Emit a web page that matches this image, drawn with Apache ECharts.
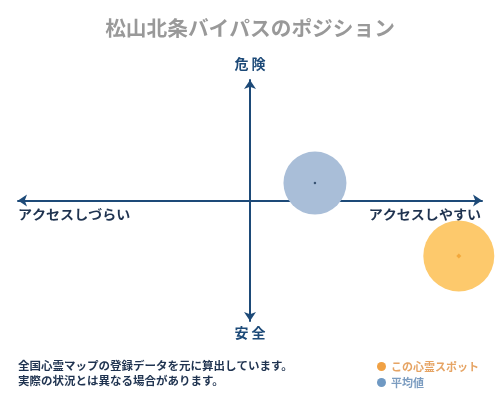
<!DOCTYPE html>
<html><head><meta charset="utf-8">
<script src="https://cdn.jsdelivr.net/npm/echarts@6/dist/echarts.min.js"></script>
<style>html,body{margin:0;padding:0;background:#fff}#c{width:500px;height:400px}</style>
</head><body><div id="c"></div>
<script>
const seriesNames = ['この心霊スポット', '平均値'];
const spotPoint = [9.0, -4.6];
const avgPoint = [2.8, 1.45];
const axisLabels = { top: '危 険', bottom: '安 全', left: 'アクセスしづらい', right: 'アクセスしやすい' };
const noteLines = ['全国心霊マップの登録データを元に算出しています。', '実際の状況とは異なる場合があります。'];
const titleText = '松山北条バイパスのポジション';

const FONT = '"Noto Sans CJK JP", "Noto Sans", sans-serif';
const NAVY = '#1d4a78';
const chart = echarts.init(document.getElementById('c'));
chart.setOption({
  backgroundColor: '#fff',
  animation: false,
  title: { text: titleText, left: 'center', top: 13,
    textStyle: { fontFamily: FONT, fontSize: 20.7, fontWeight: 'bold', color: '#999' } },
  grid: { left: 18, right: 18, top: 80, bottom: 79 },
  xAxis: { type: 'value', min: -10, max: 10, splitLine: { show: false }, axisTick: { show: false }, axisLabel: { show: false },
    axisLine: { onZero: true, lineStyle: { color: NAVY, width: 2 }, symbol: ['arrow', 'arrow'], symbolSize: [9, 9] } },
  yAxis: { type: 'value', min: -10, max: 10, splitLine: { show: false }, axisTick: { show: false }, axisLabel: { show: false },
    axisLine: { onZero: true, lineStyle: { color: NAVY, width: 2 }, symbol: ['arrow', 'arrow'], symbolSize: [9, 9] } },
  legend: { orient: 'vertical', left: 377, top: 361, padding: 0, itemGap: 5, itemWidth: 9, itemHeight: 9, icon: 'circle',
    data: [
      { name: seriesNames[0], itemStyle: { color: '#f0a144' }, textStyle: { color: '#e6a464' } },
      { name: seriesNames[1], itemStyle: { color: '#6f99c3' }, textStyle: { color: '#7b9cc0' } }
    ],
    textStyle: { fontFamily: FONT, fontSize: 11, fontWeight: 'bold' } },
  series: [
    { name: seriesNames[0], type: 'scatter', data: [spotPoint], symbolSize: 71, z: 3,
      itemStyle: { color: '#fdc96c', opacity: 1 } },
    { name: seriesNames[1], type: 'scatter', data: [avgPoint], symbolSize: 63, z: 2,
      itemStyle: { color: '#a9bed8', opacity: 1 } },
    { name: 'spotCenter', type: 'scatter', data: [spotPoint], symbol: 'diamond', symbolSize: 5, z: 4,
      itemStyle: { color: '#f0a030' }, silent: true },
    { name: 'avgCenter', type: 'scatter', data: [avgPoint], symbolSize: 2.5, z: 4,
      itemStyle: { color: '#1d3a5a' }, silent: true }
  ],
  graphic: [
    { type: 'text', left: 'center', top: 57, style: { text: axisLabels.top, fontFamily: FONT, fontSize: 14, fontWeight: 'bold', fill: NAVY } },
    { type: 'text', left: 'center', top: 326, style: { text: axisLabels.bottom, fontFamily: FONT, fontSize: 14, fontWeight: 'bold', fill: NAVY } },
    { type: 'text', x: 18, y: 208, scaleX: 1.08, style: { text: axisLabels.left, fontFamily: FONT, fontSize: 13, fontWeight: 'bold', fill: '#1f3350' } },
    { type: 'text', x: 481, y: 208, scaleX: 1.08, style: { text: axisLabels.right, align: 'right', fontFamily: FONT, fontSize: 13, fontWeight: 'bold', fill: '#1f3350' } },
    { type: 'text', x: 18, y: 361, scaleX: 1.065, style: { text: noteLines[0], fontFamily: FONT, fontSize: 10.8, fontWeight: 'bold', fill: '#1f3350' } },
    { type: 'text', x: 18, y: 376, scaleX: 1.065, style: { text: noteLines[1], fontFamily: FONT, fontSize: 10.8, fontWeight: 'bold', fill: '#1f3350' } }
  ]
});
</script></body></html>
